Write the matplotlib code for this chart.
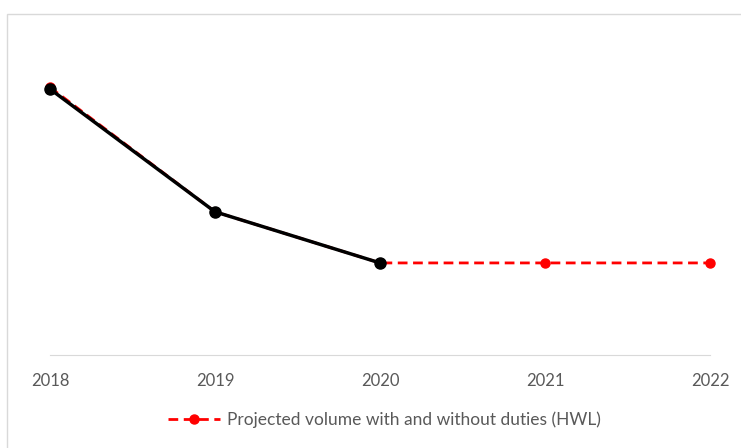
import numpy as np
import matplotlib.pyplot as plt
from matplotlib.patches import Rectangle

years = [2018, 2019, 2020, 2021, 2022]
# index of volume (no value axis shown)
projected = [78.5, 42.0, 27.0, 27.0, 27.0]
actual_years = [2018, 2019, 2020]
actual = [78.0, 42.0, 27.0]
legend_label = "Projected volume with and without duties (HWL)"

plt.rcParams['font.family'] = ['Lato', 'DejaVu Sans']

fig = plt.figure(figsize=(7.41, 4.48), dpi=100)
fig.patches.append(Rectangle((7/741, -0.1), 1.0, 1.1 - 14/448, transform=fig.transFigure,
                             fill=False, edgecolor='#d9d9d9', linewidth=1))

ax = fig.add_axes([50/741, 1 - 355/448, 660/741, 341/448])
ax.plot(years, projected, color='#ff0000', linestyle=(0, (3.5, 2)), linewidth=2,
        marker='o', markersize=6.5, label=legend_label, zorder=2, clip_on=False)
ax.plot(actual_years, actual, color='black', linewidth=2.5,
        marker='o', markersize=8, zorder=3, clip_on=False)

ax.set_xlim(2018, 2022)
ax.set_ylim(0, 100)
ax.set_xticks(years)
ax.set_xticklabels([str(y) for y in years])
ax.set_yticks([])
for s in ['top', 'right', 'left']:
    ax.spines[s].set_visible(False)
ax.spines['bottom'].set_color('#d9d9d9')
ax.tick_params(axis='x', length=0, pad=13, labelsize=12, labelcolor='#595959')

fig.legend(handles=[ax.lines[0]], loc='center', bbox_to_anchor=(384/741, 1 - 420/448),
           frameon=False, fontsize=12.5, labelcolor='#595959', handlelength=3.0,
           handletextpad=0.4)

fig.savefig('out.png', dpi=100)
